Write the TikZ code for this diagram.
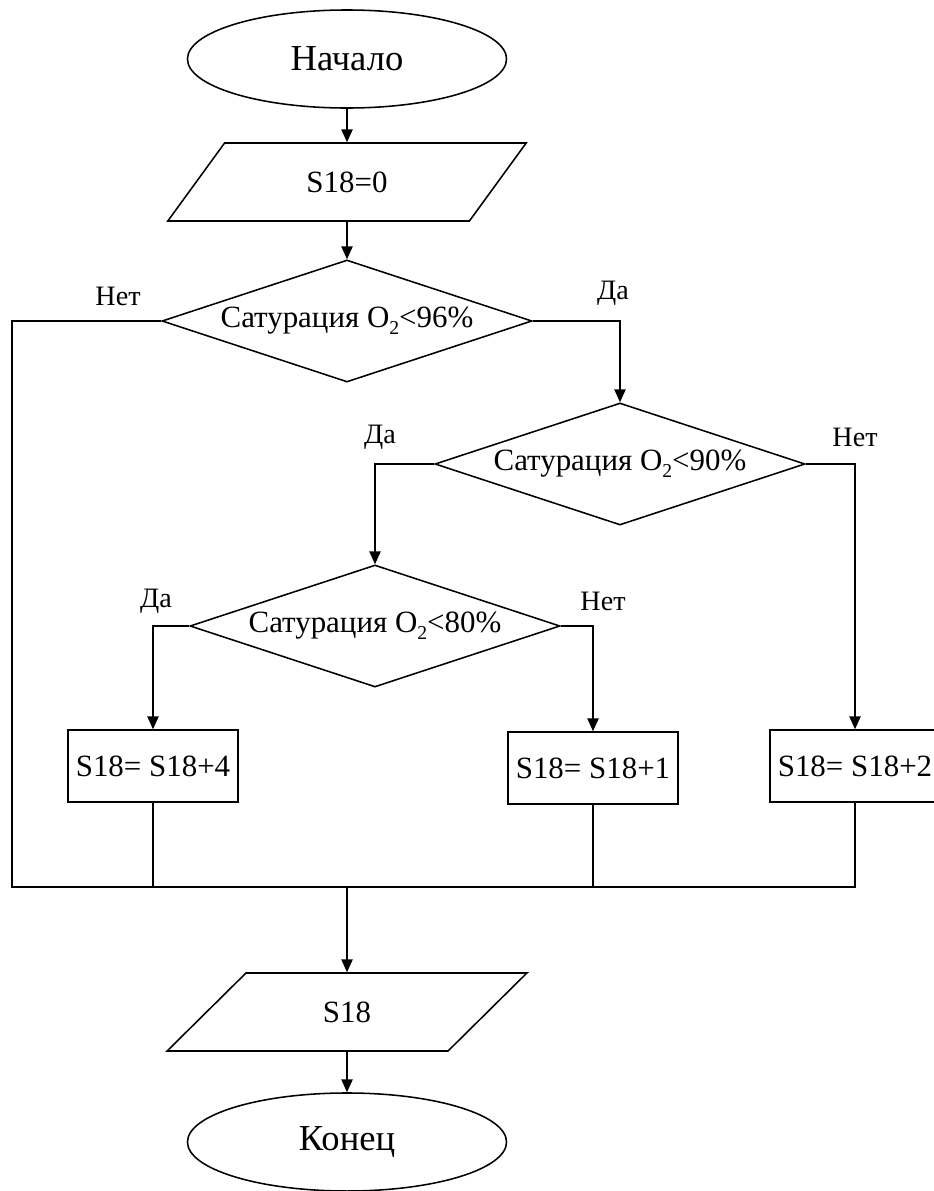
\documentclass[tikz,border=0pt]{standalone}
\usepackage{fontspec}
\setmainfont{Liberation Serif}
\newfontfamily\tnr{Liberation Serif}
\usepackage{tikz}
\usetikzlibrary{shapes.geometric,arrows.meta}
\newcommand{\oxy}{O\raisebox{-0.22em}{\fontsize{14}{14}\selectfont 2}}

\begin{document}
\begin{tikzpicture}[x=0.025cm,y=-0.025cm,line width=1.1pt,
    every node/.style={font=\tnr\fontsize{22}{26}\selectfont},
    term/.style={draw,ellipse,minimum width=7.975cm,minimum height=2.45cm,inner sep=0pt,
        font=\tnr\fontsize{26}{30}\selectfont},
    io/.style={draw,trapezium,trapezium left angle=48,trapezium right angle=132,
        trapezium stretches=true,minimum width=9cm,minimum height=1.95cm,inner sep=0pt},
    cond/.style={draw,diamond,aspect=3.03,minimum width=9.25cm,minimum height=3.05cm,inner sep=0pt},
    proc/.style={draw,rectangle,minimum width=4.25cm,minimum height=1.8cm,inner sep=0pt},
    lbl/.style={font=\tnr\fontsize{20}{24}\selectfont},
    arr/.style={-{Triangle[length=0.32cm,width=0.28cm]}}]
    \useasboundingbox (0,0) rectangle (934,1191);

    \node[term] (start) at (347,59) {Начало};
    \node[io] (init) at (347,182) {S18=0};
    \node[cond] (c96) at (347,321) {Сатурация \oxy<96\%};
    \node[cond] (c90) at (620,464) {Сатурация \oxy<90\%};
    \node[cond] (c80) at (375,626) {Сатурация \oxy<80\%};
    \node[proc] (add4) at (153,766) {S18= S18+4};
    \node[proc] (add1) at (593,768) {S18= S18+1};
    \node[proc] (add2) at (855,766) {S18= S18+2};
    \node[io] (res) at (347,1012) {S18};
    \node[term] (stop) at (347,1142) {Конец};

    \node[lbl] (c96no) at (118,296) {Нет};
    \node[lbl] (c96yes) at (613,293) {Да};
    \node[lbl] (c90yes) at (380,437) {Да};
    \node[lbl] (c90no) at (855,437) {Нет};
    \node[lbl] (c80yes) at (156,601) {Да};
    \node[lbl] (c80no) at (603,601) {Нет};

    \coordinate (bend) at (12,887);
    \coordinate (join) at (347,887);

    \draw[arr] (start) -- (init);
    \draw[arr] (init) -- (c96);
    \draw[arr] (c96.east) -| (c90.north);
    \draw[arr] (c90.west) -| (c80.north);
    \draw[arr] (c90.east) -| (add2.north);
    \draw[arr] (c80.west) -| (add4.north);
    \draw[arr] (c80.east) -| (add1.north);
    \draw (c96.west) -| (bend) -- (join);
    \draw (add4.south) |- (join);
    \draw (add1.south) |- (join);
    \draw (add2.south) |- (join);
    \draw[arr] (join) -- (res);
    \draw[arr] (res) -- (stop);
\end{tikzpicture}
\end{document}
